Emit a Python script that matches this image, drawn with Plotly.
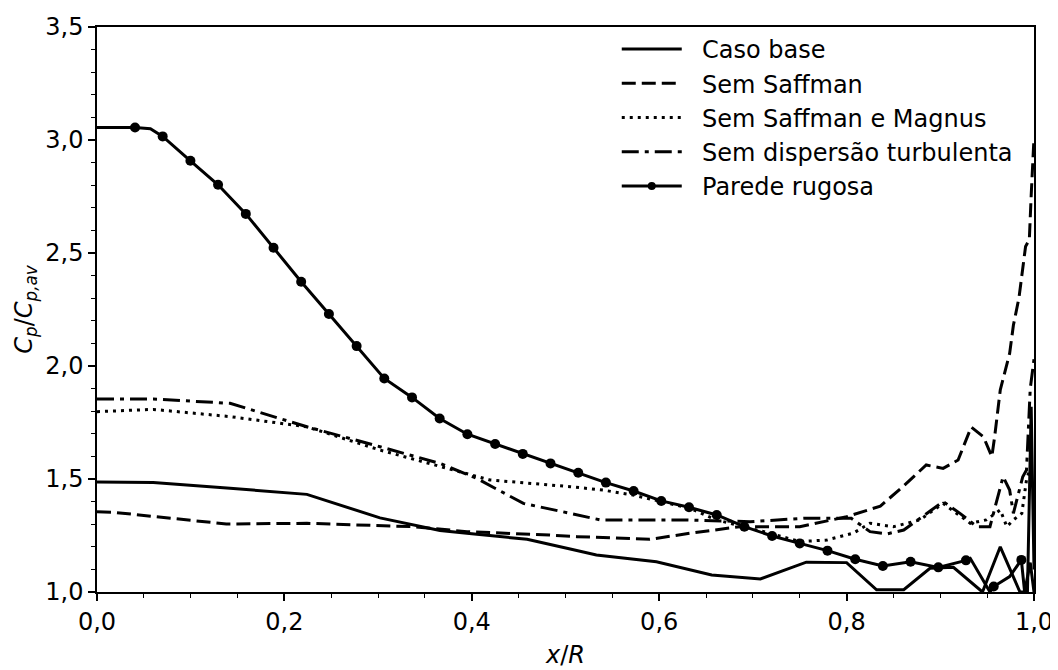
import plotly.graph_objects as go

# ---- data ----
base_x = [0.0, 0.06, 0.142, 0.224, 0.302, 0.366, 0.40, 0.459, 0.505, 0.533, 0.597, 0.656, 0.708,
          0.757, 0.800, 0.832, 0.861, 0.889, 0.914, 0.945, 0.964, 0.979, 0.985, 0.993, 0.997, 1.0]
base_y = [1.487, 1.484, 1.459, 1.432, 1.328, 1.272, 1.258, 1.233, 1.190, 1.164, 1.134, 1.075, 1.058,
          1.132, 1.130, 1.010, 1.010, 1.105, 1.109, 1.000, 1.200, 1.060, 1.000, 1.000, 1.82, 1.10]

saff_x = [0.0, 0.017, 0.138, 0.224, 0.337, 0.395, 0.483, 0.512, 0.590, 0.633, 0.686, 0.750, 0.800,
          0.836, 0.860, 0.885, 0.903, 0.919, 0.933, 0.946, 0.955, 0.958, 0.964, 0.974, 0.978, 0.984,
          0.991, 0.995, 0.997, 1.0]
saff_y = [1.355, 1.353, 1.301, 1.304, 1.289, 1.267, 1.252, 1.245, 1.233, 1.260, 1.289, 1.289, 1.333,
          1.380, 1.466, 1.562, 1.547, 1.584, 1.730, 1.687, 1.599, 1.687, 1.894, 2.056, 2.180, 2.303,
          2.529, 2.559, 2.755, 3.011]

mag_x = [0.0, 0.06, 0.142, 0.224, 0.302, 0.366, 0.419, 0.505, 0.540, 0.572, 0.601, 0.633, 0.661,
         0.690, 0.718, 0.750, 0.779, 0.807, 0.825, 0.850, 0.878, 0.903, 0.932, 0.949, 0.964, 0.971,
         0.978, 0.987, 0.992, 0.996, 1.0]
mag_y = [1.798, 1.808, 1.776, 1.731, 1.628, 1.554, 1.496, 1.466, 1.451, 1.429, 1.400, 1.370, 1.319,
         1.289, 1.260, 1.223, 1.230, 1.260, 1.304, 1.289, 1.319, 1.392, 1.304, 1.319, 1.363, 1.289,
         1.319, 1.348, 1.496, 1.550, 1.520]

disp_x = [0.0, 0.06, 0.142, 0.224, 0.302, 0.366, 0.405, 0.455, 0.505, 0.537, 0.626, 0.697, 0.754,
          0.805, 0.825, 0.843, 0.861, 0.903, 0.921, 0.939, 0.953, 0.967, 0.974, 0.978, 0.988, 0.992,
          0.996, 1.0]
disp_y = [1.854, 1.854, 1.835, 1.731, 1.643, 1.569, 1.503, 1.392, 1.348, 1.319, 1.319, 1.311, 1.326,
          1.326, 1.267, 1.257, 1.274, 1.400, 1.348, 1.289, 1.289, 1.510, 1.451, 1.348, 1.510, 1.540,
          1.900, 2.030]

rug_x = [0.0, 0.0406, 0.057, 0.0701, 0.0997, 0.1292, 0.1588, 0.1884, 0.2179, 0.2475, 0.2771, 0.3066,
         0.3362, 0.3657, 0.3953, 0.4249, 0.4544, 0.4840, 0.5136, 0.5431, 0.5727, 0.6022, 0.6318,
         0.6614, 0.6909, 0.7205, 0.7500, 0.7796, 0.8092, 0.8387, 0.8683, 0.8979, 0.9274, 0.932,
         0.953, 0.9570, 0.974, 0.9865, 0.990, 0.996, 1.0]
rug_y = [3.055, 3.055, 3.050, 3.016, 2.908, 2.802, 2.673, 2.523, 2.373, 2.230, 2.088, 1.945,
         1.861, 1.768, 1.698, 1.655, 1.611, 1.569, 1.528, 1.484, 1.447, 1.403, 1.375,
         1.341, 1.289, 1.248, 1.215, 1.183, 1.145, 1.115, 1.134, 1.109, 1.140, 1.149,
         1.000, 1.024, 1.068, 1.142, 1.000, 1.130, 1.000]
rug_marked = [0, 1, 0] + [1] * 30 + [0, 0, 1, 0, 1, 0, 0, 0]

names = ["Caso base", "Sem Saffman", "Sem Saffman e Magnus", "Sem dispersão turbulenta", "Parede rugosa"]
pad = "\u00a0\u00a0"

LW = 3
fig = go.Figure()
fig.add_trace(go.Scatter(x=base_x, y=base_y, mode="lines", name=pad + names[0], legendgroup="a",
                         line=dict(color="black", width=LW)))
fig.add_trace(go.Scatter(x=saff_x, y=saff_y, mode="lines", name=pad + names[1], legendgroup="b",
                         line=dict(color="black", width=LW, dash="14px,6px")))
fig.add_trace(go.Scatter(x=mag_x, y=mag_y, mode="lines", name=pad + names[2], legendgroup="c",
                         line=dict(color="black", width=LW, dash="3px,5px")))
fig.add_trace(go.Scatter(x=disp_x, y=disp_y, mode="lines", name=pad + names[3], legendgroup="d",
                         line=dict(color="black", width=LW, dash="17px,6px,4px,6px")))
fig.add_trace(go.Scatter(x=rug_x, y=rug_y, mode="lines+markers", name=pad + names[4], legendgroup="e",
                         line=dict(color="black", width=LW),
                         marker=dict(color="black", opacity=1, line=dict(width=0),
                                     size=[10 if m else 0 for m in rug_marked])))

FONT = dict(family="DejaVu Sans", size=24, color="black")
axis_common = dict(showline=True, linecolor="black", linewidth=1.5, mirror=True,
                   ticks="outside", ticklen=7, tickwidth=1.5, tickcolor="black",
                   showgrid=False, zeroline=False, automargin=False,
                   tickfont=FONT, tickformat=".1f")

fig.update_xaxes(range=[0, 1], dtick=0.2, tick0=0,
                 minor=dict(dtick=0.05, ticks="outside", ticklen=4, tickwidth=1.2, tickcolor="black"),
                 title=dict(text="<i>x</i>/<i>R</i>", font=FONT, standoff=12),
                 **axis_common)
fig.update_yaxes(range=[1, 3.5], dtick=0.5, tick0=1,
                 minor=dict(dtick=0.1, ticks="outside", ticklen=4, tickwidth=1.2, tickcolor="black"),
                 title=dict(text="<i>C</i><sub><i>p</i></sub>/<i>C</i><sub><i>p,av</i></sub>",
                            font=FONT, standoff=6),
                 **axis_common)

fig.update_layout(
    template="simple_white",
    width=1050, height=662,
    margin=dict(l=89, r=24, t=19, b=78, autoexpand=False),
    paper_bgcolor="white", plot_bgcolor="white",
    separators=",.",
    showlegend=True,
    legend=dict(x=0.5547, y=1.0, xanchor="left", yanchor="top",
                font=FONT, bgcolor="rgba(0,0,0,0)", itemwidth=60, tracegroupgap=0),
)

fig.write_html("out.html")
